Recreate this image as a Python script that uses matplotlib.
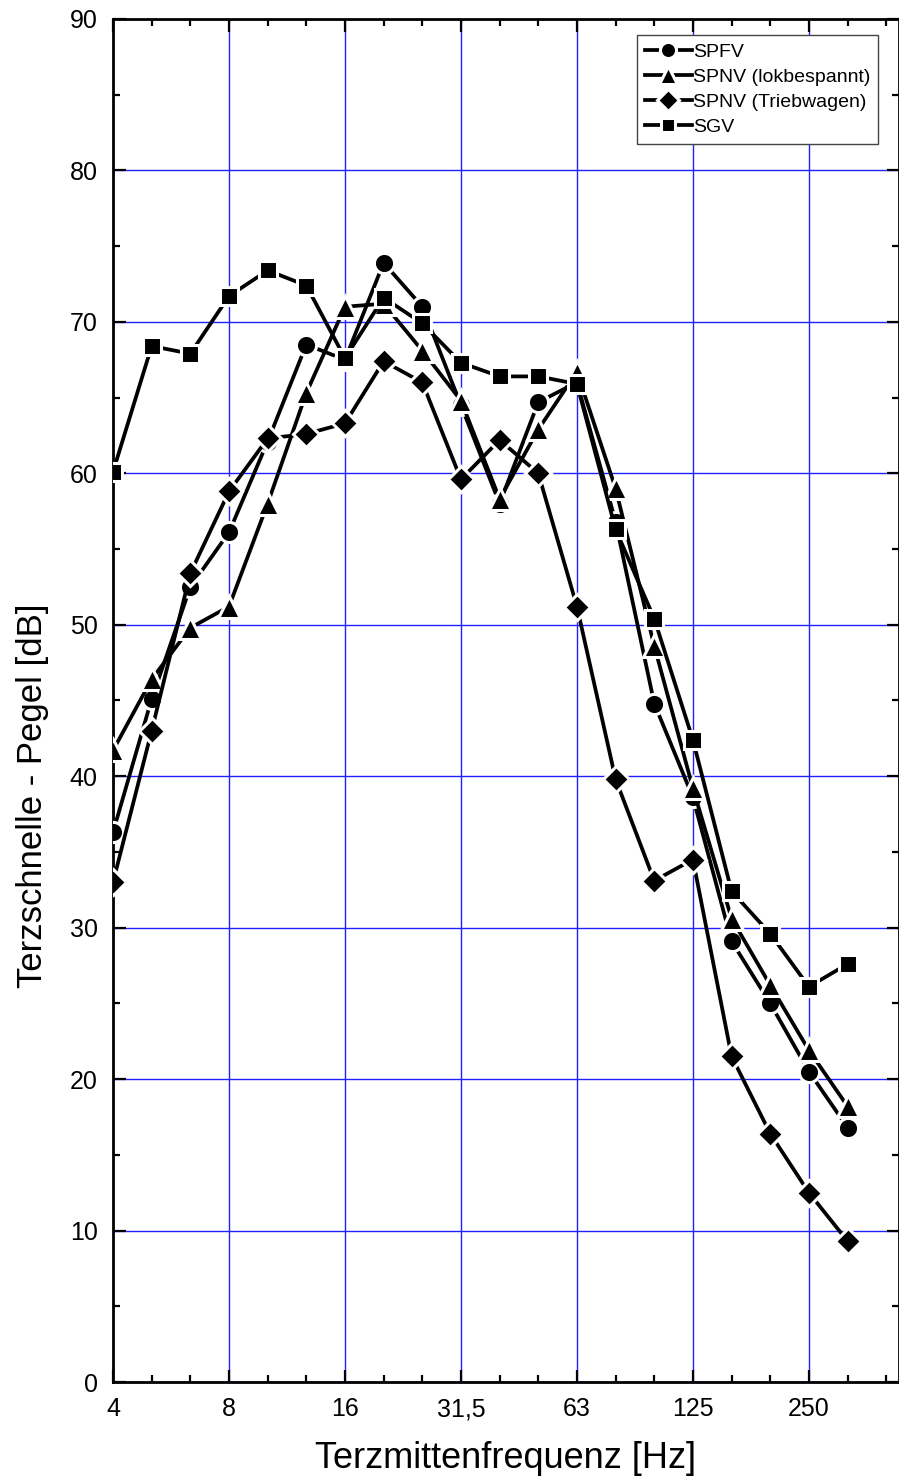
import numpy as np
from matplotlib import pyplot as plt
from matplotlib.ticker import MultipleLocator, FixedLocator

plt.rcParams['font.family'] = ['Liberation Sans', 'DejaVu Sans']

# third-octave band centre frequencies (Hz)
bands = ['4', '5', '6,3', '8', '10', '12,5', '16', '20', '25', '31,5',
         '40', '50', '63', '80', '100', '125', '160', '200', '250', '315']
tick_bands = ['4', '8', '16', '31,5', '63', '125', '250']

# levels in dB
spfv = [36.3, 45.1, 52.5, 56.1, 62.1, 68.5, 67.5, 73.9, 71.0, 64.5,
        58.0, 64.7, 66.0, 56.8, 44.8, 38.6, 29.1, 25.0, 20.5, 16.8]
spnv_lok = [41.7, 46.4, 49.8, 51.2, 58.0, 65.3, 71.0, 71.2, 68.1, 64.8,
            58.3, 62.9, 66.7, 59.0, 48.6, 39.2, 30.6, 26.2, 21.9, 18.2]
spnv_trieb = [33.0, 43.0, 53.4, 58.8, 62.3, 62.6, 63.3, 67.4, 66.0, 59.6,
              62.2, 60.0, 51.2, 39.8, 33.1, 34.5, 21.5, 16.4, 12.5, 9.3]
sgv = [60.1, 68.4, 67.9, 71.7, 73.4, 72.4, 67.6, 71.6, 69.9, 67.3,
       66.4, 66.4, 65.9, 56.3, 50.4, 42.4, 32.4, 29.6, 26.1, 27.6]

series = [('SPFV', spfv, 'o'),
          ('SPNV (lokbespannt)', spnv_lok, '^'),
          ('SPNV (Triebwagen)', spnv_trieb, 'D'),
          ('SGV', sgv, 's')]
sizes = {'o': 14.5, '^': 15.5, 'D': 13.5, 's': 13}

x = np.arange(len(bands))

fig = plt.figure(figsize=(8.99, 14.83), dpi=100)
ax = fig.add_axes([0.1257, 0.0681, 0.8743, 0.9191])

for name, vals, m in series:
    ax.plot(x, vals, color='black', lw=2.7, marker=m, ms=sizes[m],
            mfc='black', mec='white', mew=2.2, label=name, zorder=3)

ax.set_xlim(0, 20.33)
ax.set_ylim(0, 90)
ax.xaxis.set_major_locator(FixedLocator([bands.index(b) for b in tick_bands]))
ax.set_xticklabels(tick_bands)
ax.xaxis.set_minor_locator(FixedLocator(list(x) + [20]))
ax.yaxis.set_major_locator(MultipleLocator(10))
ax.yaxis.set_minor_locator(MultipleLocator(5))

ax.grid(True, which='major', color='#2020ff', lw=1.0, zorder=1)
ax.tick_params(which='both', direction='in', top=True, right=True,
               width=1.6, labelsize=18, pad=11)
ax.tick_params(which='major', length=9)
ax.tick_params(which='minor', length=5)
for s in ax.spines.values():
    s.set_linewidth(2.0)

ax.set_xlabel('Terzmittenfrequenz [Hz]', fontsize=26, labelpad=14)
ax.set_ylabel('Terzschnelle - Pegel [dB]', fontsize=25)
ax.yaxis.set_label_coords(-0.082, 0.43)

leg = ax.legend(loc='upper right', bbox_to_anchor=(0.973, 0.988),
                borderaxespad=0, fontsize=14, markerscale=0.8,
                handlelength=2.4, handletextpad=0.05, labelspacing=0.38,
                borderpad=0.4, fancybox=False, framealpha=1,
                edgecolor='#444444')
leg.get_frame().set_linewidth(1.0)

fig.savefig('out.png', dpi=100)
